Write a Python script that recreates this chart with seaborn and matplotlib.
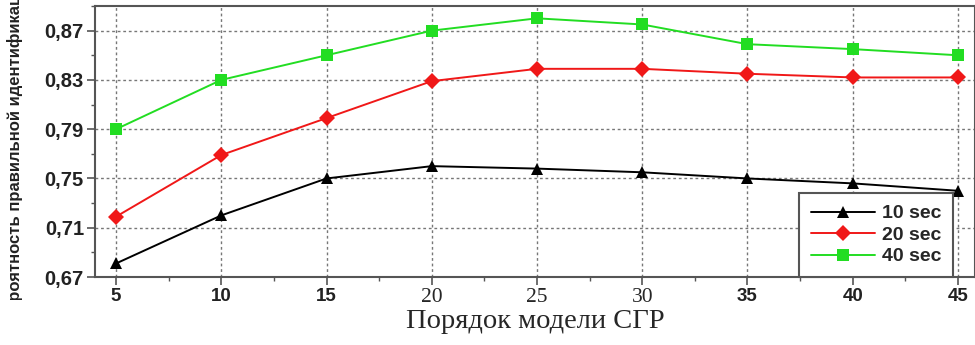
import pandas as pd
import seaborn as sns
import matplotlib.pyplot as plt
import numpy as np
from matplotlib.patches import Rectangle
from matplotlib.ticker import FuncFormatter

# =========================
# Datos
# =========================
orders = [5, 10, 15, 20, 25, 30, 35, 40, 45]
p_10sec = [0.681, 0.720, 0.750, 0.760, 0.758, 0.755, 0.750, 0.746, 0.740]
p_20sec = [0.719, 0.769, 0.799, 0.829, 0.839, 0.839, 0.835, 0.832, 0.832]
p_40sec = [0.790, 0.830, 0.850, 0.870, 0.880, 0.875, 0.859, 0.855, 0.850]
series_names = ["10 sec", "20 sec", "40 sec"]
y_ticks = [0.67, 0.71, 0.75, 0.79, 0.83, 0.87]
y_minor = [0.69, 0.73, 0.77, 0.81, 0.85, 0.89]
x_minor = [7.5, 12.5, 17.5, 22.5, 27.5, 32.5, 37.5, 42.5]

colors = {"10 sec": "#000000", "20 sec": "#f01818", "40 sec": "#22dd22"}
markers = {"10 sec": "^", "20 sec": "D", "40 sec": "s"}

df = pd.concat([
    pd.DataFrame({"order": orders, "p": vals, "dur": name})
    for name, vals in zip(series_names, [p_10sec, p_20sec, p_40sec])
], ignore_index=True)

# =========================
# Plot
# =========================
sns.set_style("ticks")
plt.rcParams['font.family'] = ['Liberation Sans', 'DejaVu Sans']

fig = plt.figure(figsize=(9.75, 3.45), dpi=100)
ax = fig.add_axes([95 / 975, 68 / 345, 880 / 975, 271 / 345])

sns.lineplot(
    data=df, x="order", y="p", hue="dur", style="dur",
    palette=colors, markers=markers, dashes=False,
    markersize=8, markeredgewidth=0, linewidth=1.4, ax=ax
)

ax.set_xlim(4.0, 45.81)
ax.set_ylim(0.67, 0.8894)
ax.set_xticks(orders)
ax.set_xticks(x_minor, minor=True)
ax.set_yticks(y_ticks)
ax.set_yticks(y_minor, minor=True)
ax.yaxis.set_major_formatter(FuncFormatter(lambda v, p: f"{v:.2f}".replace(".", ",")))

ax.grid(True, which="major", linestyle=(0, (2, 2)), color="#777777", linewidth=1.0)
for sp in ax.spines.values():
    sp.set_color("#555555")
    sp.set_linewidth(1.5)

ax.tick_params(which="major", direction="out", length=6, width=1.2, color="#555555",
               labelsize=13.5, pad=2)
ax.tick_params(which="minor", direction="out", length=3, width=1.0, color="#555555")
for lab in ax.get_yticklabels():
    lab.set_fontweight("bold")
    lab.set_fontsize(14.5)
    lab.set_color("#222222")
for lab in ax.get_xticklabels():
    if lab.get_text() in ("20", "25", "30"):
        lab.set_fontfamily("Liberation Serif")
        lab.set_fontsize(15.5)
    else:
        lab.set_fontweight("bold")
        lab.set_color("#222222")

ax.set_xlabel("Порядок модели СГР", fontfamily="Liberation Serif", fontsize=20.5, labelpad=1)
ax.set_ylabel("")

# Etiqueta Y recortada como en el original
ylab = fig.text(15 / 975, 1 - 322 / 345, "Вероятность правильной идентификации",
                rotation=90, ha="center", va="bottom", fontsize=12, fontweight="bold",
                color="#222222")
clip = Rectangle((0, 45 / 345), 1, 1, transform=fig.transFigure)
ylab.set_clip_path(clip)

handles, labels = ax.get_legend_handles_labels()
leg = ax.legend(handles, labels, loc="lower right",
                bbox_to_anchor=(953 / 975, 68 / 345), bbox_transform=fig.transFigure,
                frameon=True, fancybox=False, framealpha=1, edgecolor="#555555",
                borderaxespad=0, prop=dict(weight="bold", size=14),
                handlelength=3.3, handletextpad=0.35, labelspacing=0.2,
                borderpad=0.6)
leg.get_frame().set_linewidth(1.5)

fig.savefig("out.png", dpi=100)
